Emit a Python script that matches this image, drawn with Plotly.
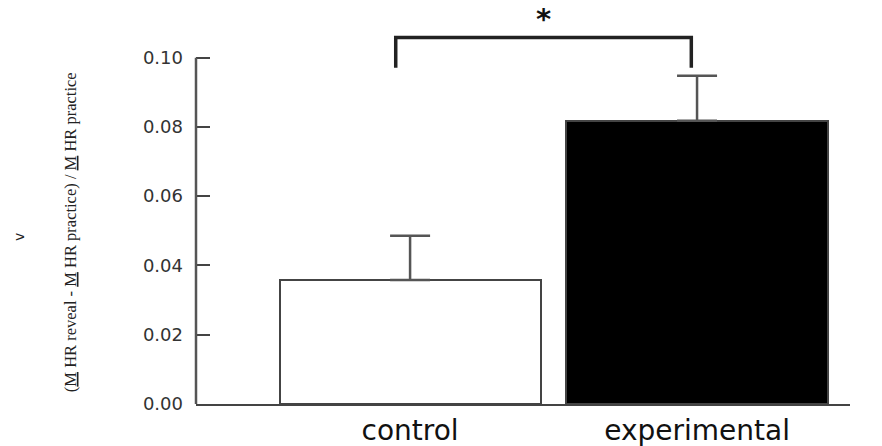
import plotly.graph_objects as go

categories = ["control", "experimental"]
means = [0.0358, 0.0818]
errors = [0.0128, 0.0130]
y_ticks = [0.00, 0.02, 0.04, 0.06, 0.08, 0.10]
y_tick_labels = ["0.00", "0.02", "0.04", "0.06", "0.08", "0.10"]

xpos = list(range(len(categories)))
bracket_top = max(m + e for m, e in zip(means, errors)) + 0.011
bracket_bottom = bracket_top - 0.0087
bx = [xpos[0] - 0.05, xpos[0] - 0.05, xpos[1] - 0.02, xpos[1] - 0.02]
by = [bracket_bottom, bracket_top, bracket_top, bracket_bottom]

fig = go.Figure()
fig.add_trace(go.Bar(
    x=xpos, y=means, width=0.91,
    marker=dict(color=["white", "black"], line=dict(color="#444", width=2)),
    error_y=dict(type="data", array=errors, arrayminus=[0, 0], symmetric=False,
                 color="#555", thickness=2.5, width=20),
    showlegend=False, hoverinfo="skip",
))
fig.add_trace(go.Scatter(
    x=bx, y=by, mode="lines", line=dict(color="#222", width=3.5),
    showlegend=False, hoverinfo="skip",
))

fig.add_annotation(x=(bx[0] + bx[-1]) / 2, y=bracket_top, xref="x", yref="y",
                   text="<b>*</b>", showarrow=False, yanchor="bottom", yshift=0,
                   font=dict(family="DejaVu Sans", size=29, color="#111"))

ylabel = "(<u>M</u> HR reveal - <u>M</u> HR practice) / <u>M</u> HR practice"
fig.add_annotation(x=0, y=0.451, xref="paper", yref="paper", xshift=-126,
                   text=ylabel, textangle=-90, showarrow=False,
                   xanchor="center", yanchor="middle",
                   font=dict(family="Liberation Serif", size=16.5, color="#222"))
fig.add_annotation(x=0, y=0.438, xref="paper", yref="paper", xshift=-187,
                   text="v", textangle=-90, showarrow=False,
                   font=dict(family="DejaVu Sans", size=14, color="#222"))

# y axis line from 0 to 0.10 only
fig.add_shape(type="line", xref="paper", yref="y", x0=0, x1=0,
              y0=y_ticks[0], y1=y_ticks[-1], line=dict(color="#555", width=2.5))

fig.update_layout(
    width=882, height=446,
    margin=dict(l=188, r=40, t=15, b=50),
    plot_bgcolor="white", paper_bgcolor="white",
    bargap=0,
    xaxis=dict(range=[-0.746, 1.533], tickvals=xpos, ticktext=categories,
               showline=True, linecolor="#444", linewidth=2, ticks="",
               showgrid=False, zeroline=False, automargin=False,
               tickfont=dict(family="DejaVu Sans", size=28, color="#111"),
               ticklabelstandoff=0),
    yaxis=dict(range=[0, 0.11], tickvals=y_ticks, ticktext=y_tick_labels,
               showline=False, ticks="inside", ticklen=14, tickwidth=2,
               tickcolor="#444", showgrid=False, zeroline=False, automargin=False,
               tickfont=dict(family="DejaVu Sans", size=18, color="#333"),
               ticklabelstandoff=12),
)

fig.write_html("out.html")
